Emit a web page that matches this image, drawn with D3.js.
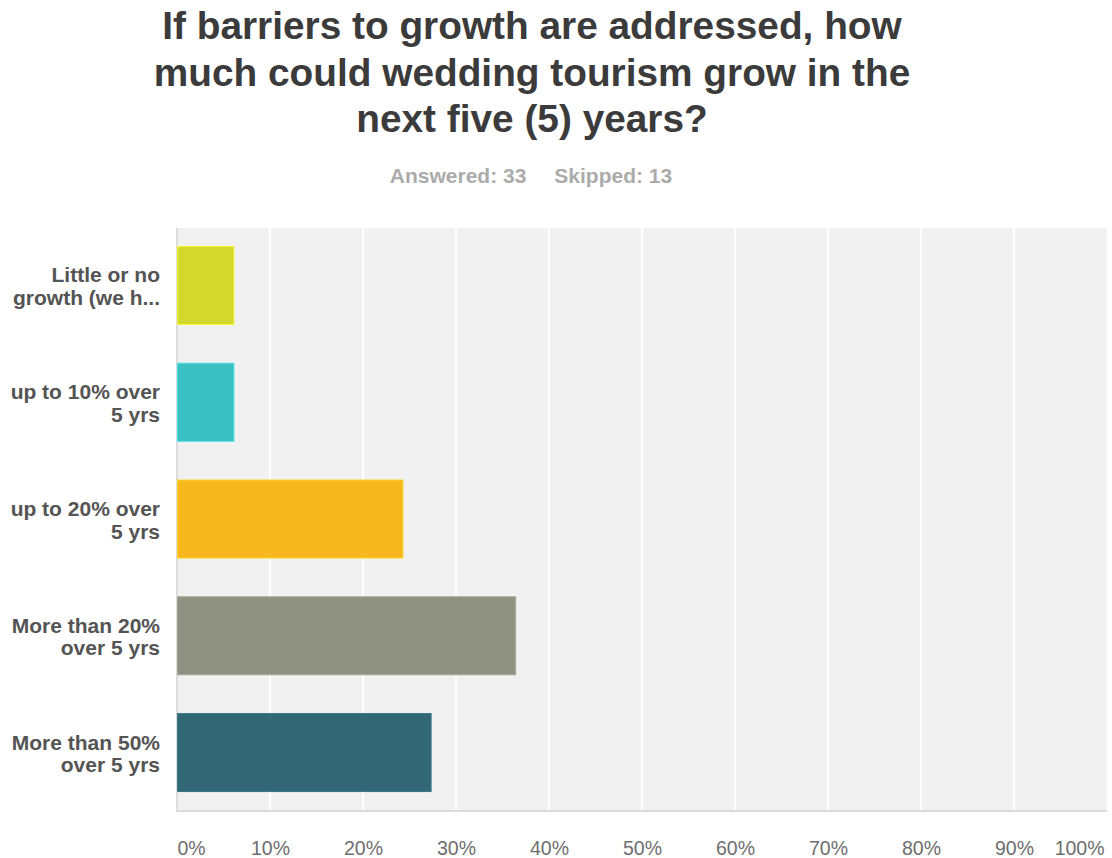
<!DOCTYPE html>
<html>
<head>
<meta charset="utf-8">
<script src="https://cdn.jsdelivr.net/npm/d3@7"></script>
<style>
  body { margin: 0; background: #fff; }
  svg { display: block; font-family: "Liberation Sans", Arial, Helvetica, sans-serif; }
</style>
</head>
<body>
<svg id="chart"></svg>
<script>
// Chart data
const titleLines = [
    'If barriers to growth are addressed, how',
    'much could wedding tourism grow in the',
    'next five (5) years?'
];
const answered = 33;
const skipped = 13;

const categories = [
    ['Little or no', 'growth (we h...'],
    ['up to 10% over', '5 yrs'],
    ['up to 20% over', '5 yrs'],
    ['More than 20%', 'over 5 yrs'],
    ['More than 50%', 'over 5 yrs']
];
const percents = [6.06, 6.06, 24.24, 36.36, 27.27];
const barColors = ['#d4d82c', '#3bc0c4', '#f6b81e', '#8f9181', '#326876'];
const ticks = [0, 10, 20, 30, 40, 50, 60, 70, 80, 90, 100];

const W = 1112, H = 858;
const margin = { top: 228, right: 5, bottom: 48, left: 177 };
const width = W - margin.left - margin.right;
const height = H - margin.top - margin.bottom;

const svg = d3.select('#chart')
    .attr('width', W)
    .attr('height', H);

// Title
svg.append('g')
    .selectAll('text')
    .data(titleLines)
    .join('text')
    .attr('x', 532)
    .attr('y', (d, i) => 39 + i * 46.5)
    .attr('text-anchor', 'middle')
    .attr('font-size', 38.8)
    .attr('font-weight', 'bold')
    .attr('fill', '#3b3b3b')
    .text(d => d);

// Answered / skipped
const sub = svg.append('text')
    .attr('x', 531)
    .attr('y', 183)
    .attr('text-anchor', 'middle')
    .attr('font-size', 21)
    .attr('font-weight', 'bold')
    .attr('fill', '#ababab');
sub.append('tspan').text(`Answered: ${answered}`);
sub.append('tspan').attr('dx', 28).text(`Skipped: ${skipped}`);

const g = svg.append('g')
    .attr('transform', `translate(${margin.left}, ${margin.top})`);

// Scales
const x = d3.scaleLinear()
    .domain([0, 100])
    .range([0, width]);

const y = d3.scaleBand()
    .domain(d3.range(categories.length))
    .range([0, height])
    .paddingInner(0.332)
    .paddingOuter(0.158);

// Plot background
g.append('rect')
    .attr('width', width)
    .attr('height', height)
    .attr('fill', '#f1f1f1');

// Grid lines
g.append('g')
    .selectAll('line')
    .data(ticks.slice(1, -1))
    .join('line')
    .attr('x1', d => x(d))
    .attr('x2', d => x(d))
    .attr('y1', 0)
    .attr('y2', height)
    .attr('stroke', '#ffffff')
    .attr('stroke-width', 2);

// Axis lines
g.append('line')
    .attr('x1', 0).attr('x2', 0)
    .attr('y1', 0).attr('y2', height + 1)
    .attr('stroke', '#dcdcdc')
    .attr('stroke-width', 2);

g.append('line')
    .attr('x1', -1).attr('x2', width)
    .attr('y1', height + 1).attr('y2', height + 1)
    .attr('stroke', '#dcdcdc')
    .attr('stroke-width', 2);

// Bars
g.append('g')
    .selectAll('rect')
    .data(percents)
    .join('rect')
    .attr('x', 0.5)
    .attr('y', (d, i) => y(i))
    .attr('width', d => x(d))
    .attr('height', y.bandwidth())
    .attr('fill', (d, i) => barColors[i])
    .attr('stroke', (d, i) => d3.color(barColors[i]).brighter(0.4))
    .attr('stroke-width', 1);

// X axis tick labels
const xAxis = g.append('g')
    .attr('transform', `translate(0, ${height})`)
    .call(d3.axisBottom(x).tickValues(ticks).tickFormat(d => d + '%').tickSize(0).tickPadding(0));

xAxis.select('.domain').remove();
xAxis.selectAll('text')
    .attr('y', 45)
    .attr('dy', 0)
    .attr('font-size', 19.5)
    .attr('font-family', '"Liberation Sans", Arial, sans-serif')
    .attr('fill', '#6e6e6e')
    .attr('text-anchor', d => d === 0 ? 'start' : d === 100 ? 'end' : 'middle')
    .attr('dx', d => d === 100 ? -3 : 0);

// Category labels
const labels = g.append('g')
    .selectAll('text')
    .data(categories)
    .join('text')
    .attr('x', -17)
    .attr('y', (d, i) => y(i) + y.bandwidth() / 2)
    .attr('text-anchor', 'end')
    .attr('font-size', 21)
    .attr('font-weight', 'bold')
    .attr('fill', '#545454');

labels.selectAll('tspan')
    .data(d => d)
    .join('tspan')
    .attr('x', -17)
    .attr('dy', (d, i) => i === 0 ? -3 : 22.5)
    .text(d => d);
</script>
</body>
</html>
